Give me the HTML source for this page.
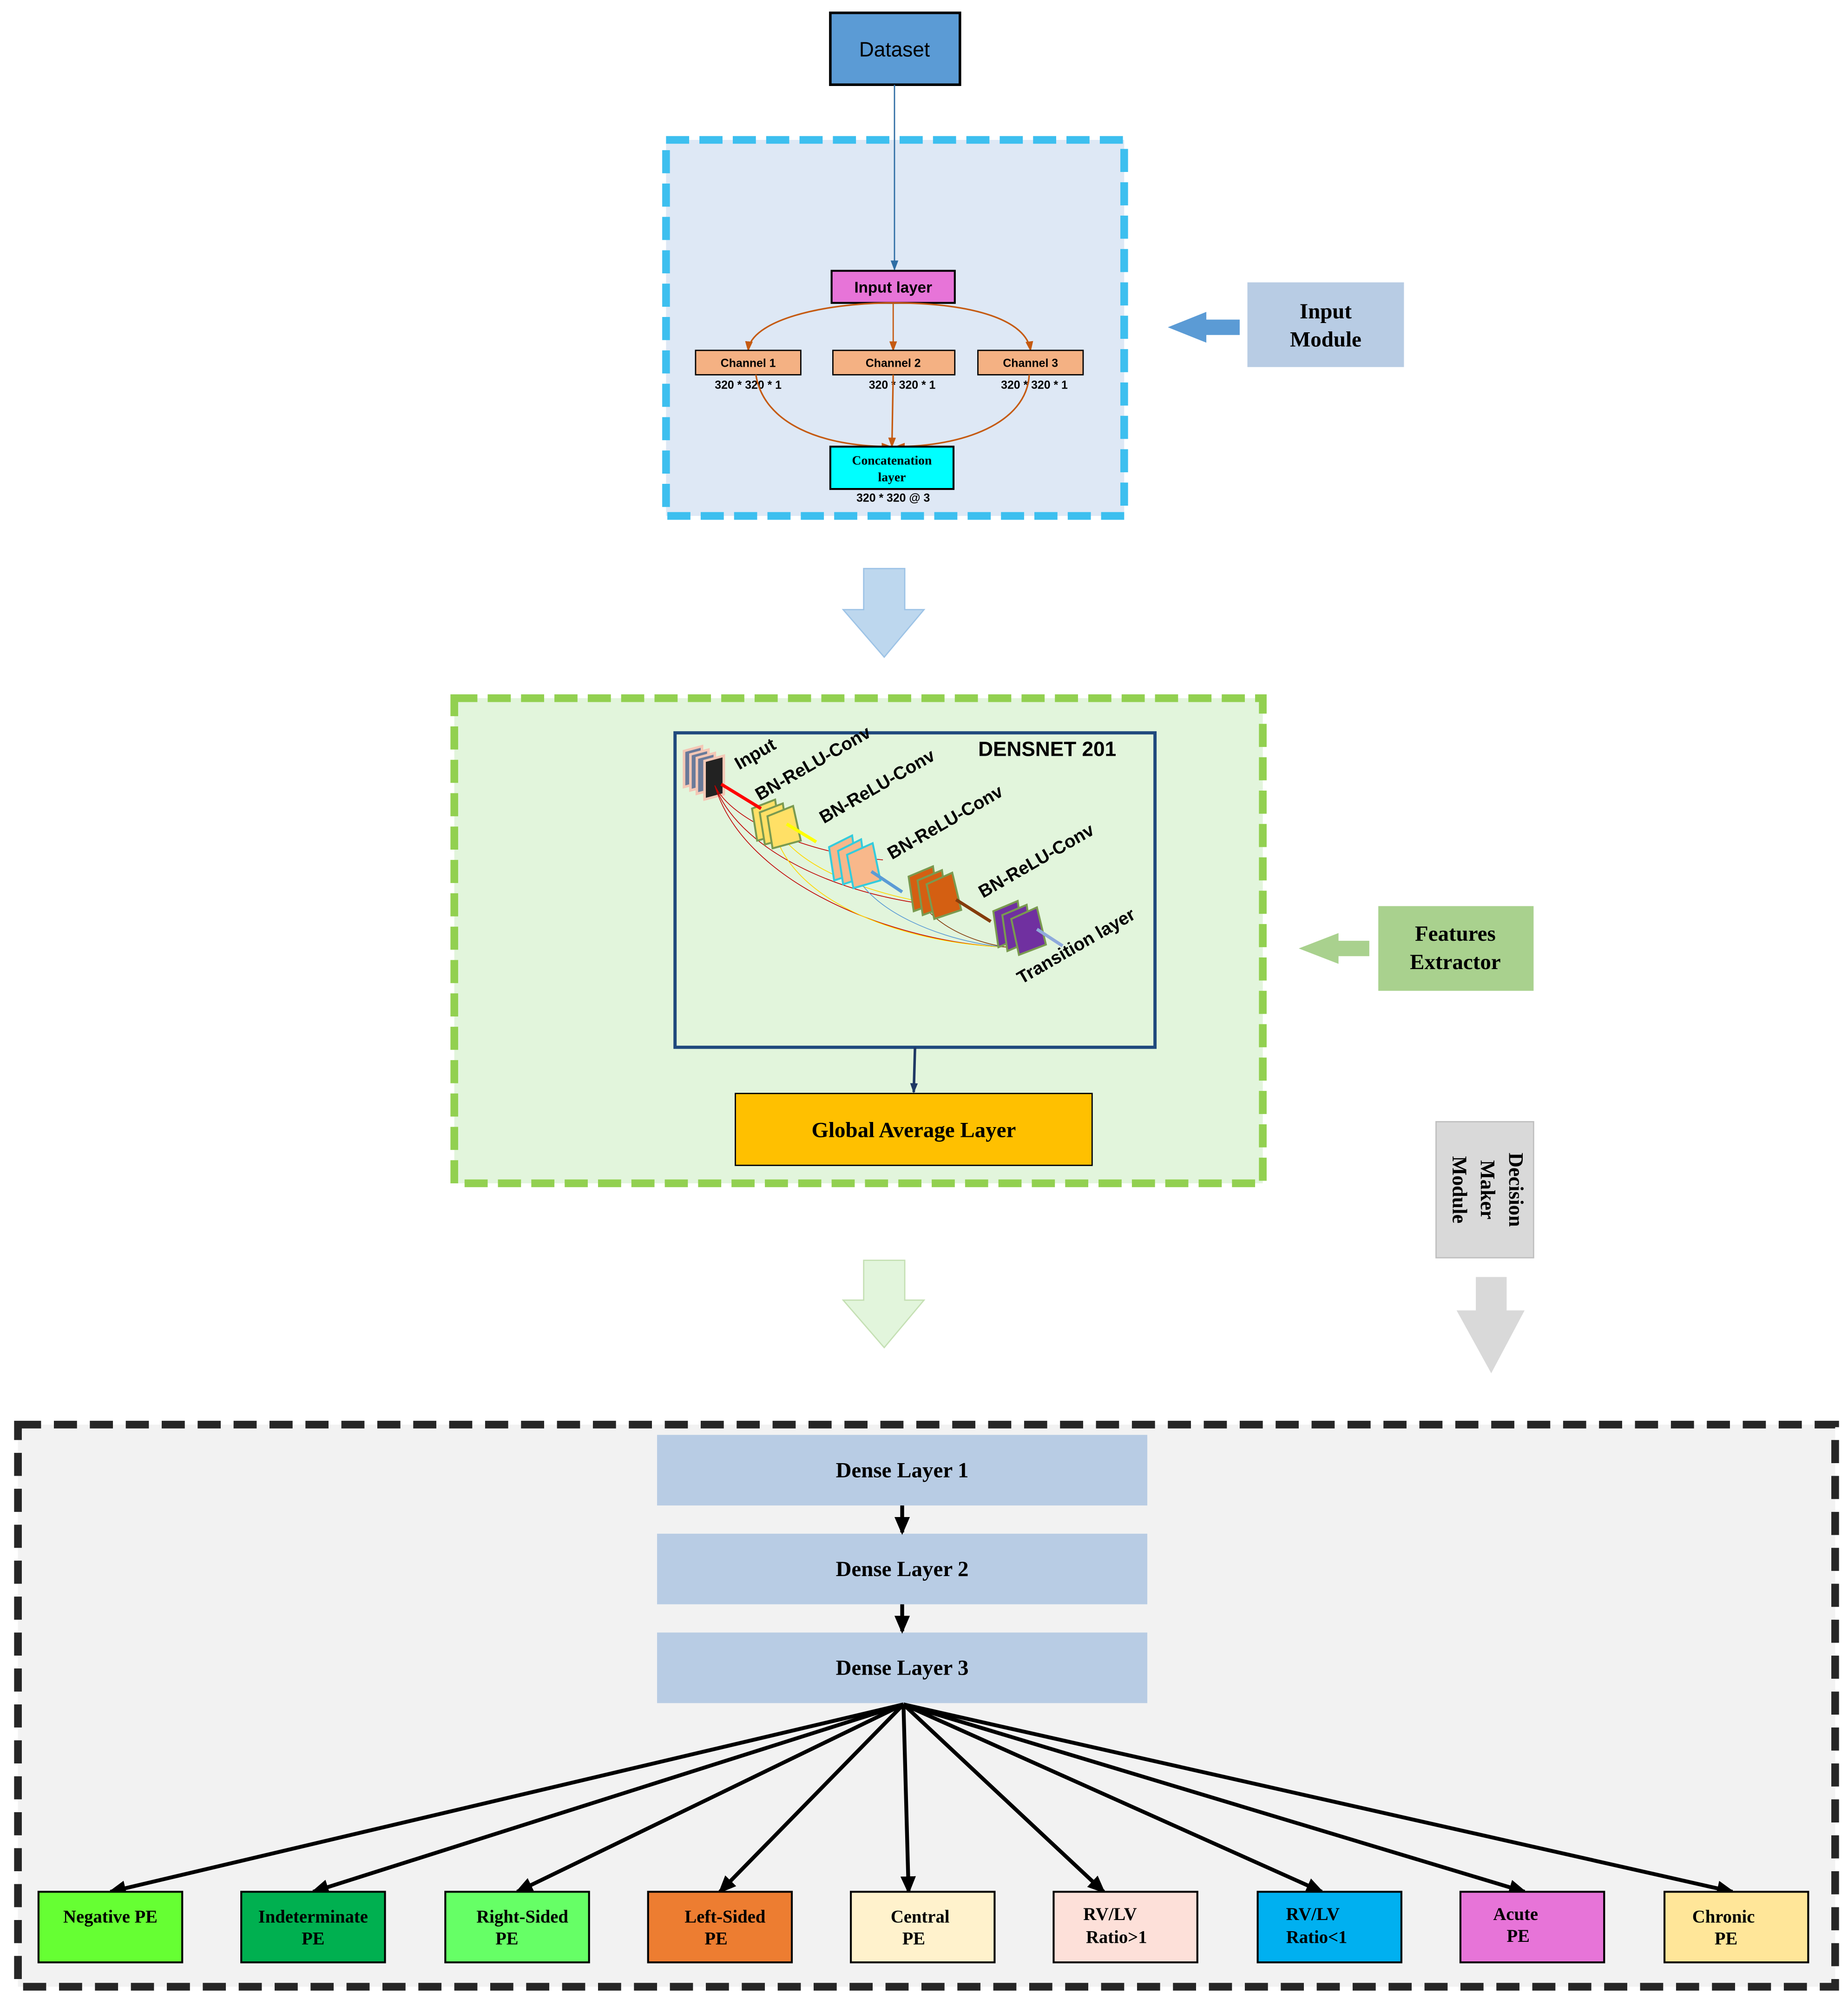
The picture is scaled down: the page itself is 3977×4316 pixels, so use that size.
<!DOCTYPE html>
<html><head><meta charset="utf-8"><style>
html,body{margin:0;padding:0;background:#fff;}
svg{display:block;width:3977px;height:4316px;}
</style></head><body>
<svg viewBox="0 0 1440 1563" preserveAspectRatio="none" xmlns="http://www.w3.org/2000/svg">
<defs>
<marker id="ab" markerWidth="8" markerHeight="8" refX="7" refY="4" orient="auto" markerUnits="userSpaceOnUse"><path d="M0,1 L8,4 L0,7 z" fill="#2e6da4"/></marker>
<marker id="ao" markerWidth="8" markerHeight="8" refX="7" refY="4" orient="auto" markerUnits="userSpaceOnUse"><path d="M0,1 L8,4 L0,7 z" fill="#c55a11"/></marker>
<marker id="ak" markerWidth="14" markerHeight="12" refX="12" refY="6" orient="auto" markerUnits="userSpaceOnUse"><path d="M0,0 L14,6 L0,12 z" fill="#000"/></marker>
<marker id="an" markerWidth="8" markerHeight="8" refX="7" refY="4" orient="auto" markerUnits="userSpaceOnUse"><path d="M0,1 L8,4 L0,7 z" fill="#1f3864"/></marker>
</defs>
<rect width="1440" height="1563" fill="#fff"/>

<rect x="647" y="10" width="101" height="56" fill="#5b9bd5" stroke="#000" stroke-width="2"/>
<text x="697" y="44" font-family="Liberation Sans, sans-serif" font-size="16" text-anchor="middle">Dataset</text>

<rect x="519" y="109" width="357" height="293" fill="#dee8f5" stroke="#3dbfef" stroke-width="6" stroke-dasharray="18,8"/>
<line x1="697" y1="66" x2="697" y2="210" stroke="#2e6da4" stroke-width="1" marker-end="url(#ab)"/>
<rect x="648" y="211" width="96" height="25" fill="#e774d8" stroke="#000" stroke-width="1.5"/>
<text x="696" y="228" font-family="Liberation Sans, sans-serif" font-size="12" font-weight="bold" text-anchor="middle">Input layer</text>
<path d="M696,236 C640,236 585,250 583,273" fill="none" stroke="#c55a11" stroke-width="1.2" marker-end="url(#ao)"/>
<path d="M696,236 C760,236 800,250 803,273" fill="none" stroke="#c55a11" stroke-width="1.2" marker-end="url(#ao)"/>
<line x1="696" y1="236" x2="696" y2="273" stroke="#c55a11" stroke-width="1" marker-end="url(#ao)"/>
<rect x="542" y="273" width="82" height="19" fill="#f4b183" stroke="#000" stroke-width="1"/>
<rect x="649" y="273" width="95" height="19" fill="#f4b183" stroke="#000" stroke-width="1"/>
<rect x="762" y="273" width="82" height="19" fill="#f4b183" stroke="#000" stroke-width="1"/>
<g font-family="Liberation Sans, sans-serif" font-size="9" font-weight="bold" text-anchor="middle">
<text x="583" y="286">Channel 1</text><text x="696" y="286">Channel 2</text><text x="803" y="286">Channel 3</text>
<text x="583" y="303">320 * 320 * 1</text><text x="703" y="303">320 * 320 * 1</text><text x="806" y="303">320 * 320 * 1</text>
<text x="696" y="391">320 * 320 @ 3</text>
</g>
<path d="M589,292 C595,330 640,348 694,348" fill="none" stroke="#c55a11" stroke-width="1.2" marker-end="url(#ao)"/>
<path d="M802,292 C800,330 750,348 698,348" fill="none" stroke="#c55a11" stroke-width="1.2" marker-end="url(#ao)"/>
<line x1="696" y1="292" x2="695" y2="348" stroke="#c55a11" stroke-width="1.2" marker-end="url(#ao)"/>
<rect x="647" y="348" width="96" height="33" fill="#00ffff" stroke="#000" stroke-width="1.5"/>
<g font-family="Liberation Serif, serif" font-size="10" font-weight="bold" text-anchor="middle">
<text x="695" y="362">Concatenation</text><text x="695" y="375">layer</text></g>

<rect x="972" y="220" width="122" height="66" fill="#b8cce4"/>
<g font-family="Liberation Serif, serif" font-size="17" font-weight="bold" text-anchor="middle">
<text x="1033" y="248">Input</text><text x="1033" y="270">Module</text></g>
<path d="M910,255 L940,243 L940,249 L966,249 L966,261 L940,261 L940,267 z" fill="#5b9bd5"/>

<path d="M673,443 L705,443 L705,475 L720,475 L689,512 L657,475 L673,475 z" fill="#bdd7ee" stroke="#9dc3e6" stroke-width="1"/>

<rect x="354" y="544" width="630" height="378" fill="#e2f5dc" stroke="#92d050" stroke-width="6" stroke-dasharray="18,8"/>
<rect x="526" y="571" width="374" height="245" fill="#e2f5dc" stroke="#1f497d" stroke-width="2.5"/>
<text x="816" y="589" font-family="Liberation Sans, sans-serif" font-size="16" font-weight="bold" text-anchor="middle">DENSNET 201</text>
<g stroke="#f4c7b5" stroke-width="2" fill="#6a7a9a">
<rect x="533" y="578" width="14" height="28" transform="skewY(-15) translate(0,150)"/>
<rect x="538" y="582" width="14" height="28" transform="skewY(-15) translate(0,150)"/>
<rect x="543" y="586" width="14" height="28" transform="skewY(-15) translate(0,150)"/>
<rect x="549" y="590" width="15" height="30" fill="#222" transform="skewY(-15) translate(0,150)"/>
</g>
<g fill="none" stroke-width="0.6">
<path d="M557,612 C580,690 700,735 785,738" stroke="#c00000"/>
<path d="M557,612 C575,660 650,700 745,707" stroke="#c00000"/>
<path d="M557,612 C570,640 630,665 688,670" stroke="#c00000"/>
<path d="M602,640 C610,700 700,735 785,738" stroke="#ffd700"/>
<path d="M602,640 C620,680 690,700 745,707" stroke="#ffd700"/>
<path d="M663,670 C670,710 740,735 785,738" stroke="#5b9bd5"/>
<path d="M712,690 C720,720 760,735 785,738" stroke="#843c0c"/>
</g>
<g stroke="#7a9a50" stroke-width="1.5">
<g fill="#ffe066"><path d="M586,630 L604,623 L608,650 L590,655z"/><path d="M592,633 L610,626 L614,653 L596,658z"/><path d="M598,636 L618,628 L624,655 L602,661z"/></g>
<g fill="#f8b88b" stroke="#3cd"><path d="M646,660 L664,651 L668,680 L650,686z"/><path d="M653,663 L671,654 L675,683 L657,689z"/><path d="M660,666 L680,657 L686,686 L665,692z"/></g>
<g fill="#d45f12"><path d="M708,683 L727,675 L731,703 L712,710z"/><path d="M715,686 L734,678 L738,706 L719,713z"/><path d="M722,689 L742,680 L749,709 L728,716z"/></g>
<g fill="#7030a0"><path d="M774,710 L793,702 L797,730 L778,738z"/><path d="M781,713 L800,705 L804,733 L785,741z"/><path d="M788,716 L808,707 L815,736 L794,744z"/></g>
</g>
<g stroke-width="2.5">
<line x1="562" y1="611" x2="593" y2="630" stroke="#f00"/>
<line x1="613" y1="642" x2="636" y2="656" stroke="#ff0"/>
<line x1="679" y1="679" x2="703" y2="695" stroke="#5b9bd5"/>
<line x1="745" y1="701" x2="772" y2="718" stroke="#843c0c"/>
<line x1="808" y1="724" x2="828" y2="737" stroke="#8faadc"/>
</g>
<g font-family="Liberation Sans, sans-serif" font-size="14" font-weight="bold">
<text transform="translate(576,600) rotate(-30)">Input</text>
<text transform="translate(592,624) rotate(-30)">BN-ReLU-Conv</text>
<text transform="translate(642,642) rotate(-30)">BN-ReLU-Conv</text>
<text transform="translate(695,670) rotate(-30)">BN-ReLU-Conv</text>
<text transform="translate(766,700) rotate(-30)">BN-ReLU-Conv</text>
<text transform="translate(796,767) rotate(-30)">Transition layer</text>
</g>
<line x1="713" y1="816" x2="712" y2="851" stroke="#1f3864" stroke-width="2" marker-end="url(#an)"/>
<rect x="573" y="852" width="278" height="56" fill="#ffc000" stroke="#000" stroke-width="1"/>
<text x="712" y="886" font-family="Liberation Serif, serif" font-size="17" font-weight="bold" text-anchor="middle">Global Average Layer</text>

<rect x="1074" y="706" width="121" height="66" fill="#a9d18e"/>
<g font-family="Liberation Serif, serif" font-size="17" font-weight="bold" text-anchor="middle">
<text x="1134" y="733">Features</text><text x="1134" y="755">Extractor</text></g>
<path d="M1012,739 L1043,727 L1043,733 L1067,733 L1067,745 L1043,745 L1043,751 z" fill="#a9d18e"/>

<rect x="1119" y="874" width="76" height="106" fill="#d9d9d9" stroke="#bfbfbf" stroke-width="1"/>
<g font-family="Liberation Serif, serif" font-size="16" font-weight="bold" text-anchor="middle">
<text transform="translate(1176,927) rotate(90)">Decision</text>
<text transform="translate(1154,927) rotate(90)">Maker</text>
<text transform="translate(1132,927) rotate(90)">Module</text></g>
<path d="M1150,995 L1174,995 L1174,1021 L1188,1021 L1162,1070 L1135,1021 L1150,1021 z" fill="#d9d9d9"/>

<path d="M673,982 L705,982 L705,1013 L720,1013 L689,1050 L657,1013 L673,1013 z" fill="#e2f5dc" stroke="#c5e0b4" stroke-width="1"/>

<rect x="14" y="1110" width="1416" height="438" fill="#f2f2f2" stroke="#262626" stroke-width="6" stroke-dasharray="18,10"/>
<g fill="#b8cce4">
<rect x="512" y="1118" width="382" height="55"/><rect x="512" y="1195" width="382" height="55"/><rect x="512" y="1272" width="382" height="55"/></g>
<g font-family="Liberation Serif, serif" font-size="17" font-weight="bold" text-anchor="middle">
<text x="703" y="1151">Dense Layer 1</text><text x="703" y="1228">Dense Layer 2</text><text x="703" y="1305">Dense Layer 3</text></g>
<g stroke="#000" stroke-width="3" fill="none">
<line x1="703" y1="1173" x2="703" y2="1194" marker-end="url(#ak)"/>
<line x1="703" y1="1250" x2="703" y2="1271" marker-end="url(#ak)"/>
<line x1="704" y1="1328" x2="86" y2="1474" marker-end="url(#ak)"/>
<line x1="704" y1="1328" x2="244" y2="1474" marker-end="url(#ak)"/>
<line x1="704" y1="1328" x2="403" y2="1474" marker-end="url(#ak)"/>
<line x1="704" y1="1328" x2="561" y2="1474" marker-end="url(#ak)"/>
<line x1="704" y1="1328" x2="708" y2="1474" marker-end="url(#ak)"/>
<line x1="704" y1="1328" x2="860" y2="1474" marker-end="url(#ak)"/>
<line x1="704" y1="1328" x2="1030" y2="1474" marker-end="url(#ak)"/>
<line x1="704" y1="1328" x2="1188" y2="1474" marker-end="url(#ak)"/>
<line x1="704" y1="1328" x2="1350" y2="1474" marker-end="url(#ak)"/>
</g>
<g stroke="#000" stroke-width="1.5">
<rect x="30" y="1474" width="112" height="55" fill="#66ff33"/>
<rect x="188" y="1474" width="112" height="55" fill="#00b050"/>
<rect x="347" y="1474" width="112" height="55" fill="#66ff66"/>
<rect x="505" y="1474" width="112" height="55" fill="#ed7d31"/>
<rect x="663" y="1474" width="112" height="55" fill="#fff2cc"/>
<rect x="821" y="1474" width="112" height="55" fill="#fde0d9"/>
<rect x="980" y="1474" width="112" height="55" fill="#00b0f0"/>
<rect x="1138" y="1474" width="112" height="55" fill="#e774d8"/>
<rect x="1297" y="1474" width="112" height="55" fill="#ffe699"/>
</g>
<g font-family="Liberation Serif, serif" font-size="14" font-weight="bold" text-anchor="middle">
<text x="86" y="1498">Negative PE</text>
<text x="244" y="1498">Indeterminate</text><text x="244" y="1515">PE</text>
<text x="407" y="1498">Right-Sided</text><text x="395" y="1515">PE</text>
<text x="565" y="1498">Left-Sided</text><text x="558" y="1515">PE</text>
<text x="717" y="1498">Central</text><text x="712" y="1515">PE</text>
<text x="865" y="1496">RV/LV</text><text x="870" y="1514">Ratio&gt;1</text>
<text x="1023" y="1496">RV/LV</text><text x="1026" y="1514">Ratio&lt;1</text>
<text x="1181" y="1496">Acute</text><text x="1183" y="1513">PE</text>
<text x="1343" y="1498">Chronic</text><text x="1345" y="1515">PE</text>
</g>
</svg>
</body></html>
